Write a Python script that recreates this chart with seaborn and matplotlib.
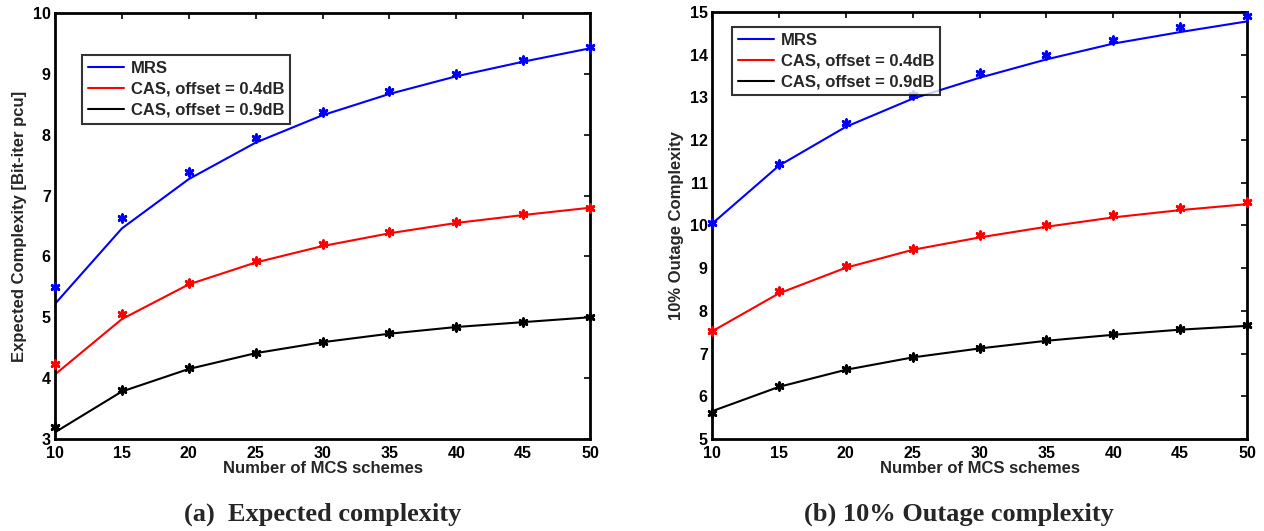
import numpy as np
import pandas as pd
import matplotlib
matplotlib.use("Agg")
import matplotlib.pyplot as plt
import seaborn as sns

sns.set_theme(style="white")
plt.rcParams['font.family'] = ['Liberation Sans', 'DejaVu Sans']
plt.rcParams['font.weight'] = 'bold'

x_mcs = [10, 15, 20, 25, 30, 35, 40, 45, 50]
series_names = ["MRS", "CAS, offset = 0.4dB", "CAS, offset = 0.9dB"]

# (a) Expected complexity: simulated points and fitted curves
exp_mrs_pts = [5.50, 6.63, 7.38, 7.95, 8.37, 8.72, 9.00, 9.22, 9.44]
exp_mrs_fit = [5.22, 6.46, 7.27, 7.87, 8.32, 8.67, 8.96, 9.20, 9.42]
exp_cas04_pts = [4.24, 5.05, 5.56, 5.93, 6.20, 6.40, 6.56, 6.69, 6.80]
exp_cas04_fit = [4.06, 4.97, 5.54, 5.90, 6.17, 6.38, 6.55, 6.68, 6.80]
exp_cas09_pts = [3.19, 3.80, 4.16, 4.42, 4.60, 4.74, 4.84, 4.93, 5.00]
exp_cas09_fit = [3.11, 3.78, 4.15, 4.41, 4.59, 4.73, 4.84, 4.92, 5.00]

# (b) 10% outage complexity
out_mrs_pts = [10.07, 11.45, 12.40, 13.05, 13.57, 14.00, 14.35, 14.65, 14.91]
out_mrs_fit = [10.04, 11.40, 12.31, 12.97, 13.46, 13.89, 14.26, 14.53, 14.78]
out_cas04_pts = [7.53, 8.46, 9.04, 9.46, 9.78, 10.01, 10.24, 10.40, 10.55]
out_cas04_fit = [7.52, 8.41, 9.01, 9.43, 9.72, 9.97, 10.19, 10.36, 10.50]
out_cas09_pts = [5.62, 6.25, 6.64, 6.92, 7.13, 7.32, 7.46, 7.58, 7.67]
out_cas09_fit = [5.65, 6.22, 6.62, 6.91, 7.12, 7.30, 7.44, 7.56, 7.65]

colors = {"MRS": "#0000ff", "CAS, offset = 0.4dB": "#ff0000", "CAS, offset = 0.9dB": "#000000"}


def make_df(pts, fits):
    rows = []
    for name, p, f in zip(series_names, pts, fits):
        for xv, pv, fv in zip(x_mcs, p, f):
            rows.append({"x": xv, "pts": pv, "fit": fv, "series": name})
    return pd.DataFrame(rows)


df_a = make_df([exp_mrs_pts, exp_cas04_pts, exp_cas09_pts],
               [exp_mrs_fit, exp_cas04_fit, exp_cas09_fit])
df_b = make_df([out_mrs_pts, out_cas04_pts, out_cas09_pts],
               [out_mrs_fit, out_cas04_fit, out_cas09_fit])

fig = plt.figure(figsize=(12.64, 5.31), dpi=100)
ax1 = fig.add_axes([0.0435, 0.1733, 0.4233, 0.8022])
ax2 = fig.add_axes([0.5633, 0.1733, 0.4233, 0.8041])

fs = 12


def draw(ax, df, ylim, yticks, ylabel, legend_anchor):
    sns.lineplot(data=df, x="x", y="fit", hue="series", palette=colors,
                 hue_order=series_names, ax=ax, linewidth=1.5, legend=True)
    for name in series_names:
        sub = df[df.series == name]
        sns.scatterplot(x=sub["x"], y=sub["pts"], ax=ax, color=colors[name],
                        marker=(6, 2, 0), s=30, linewidth=2.0, legend=False,
                        edgecolor=colors[name], zorder=3, clip_on=False)
    ax.set_xlim(10, 50)
    ax.set_ylim(*ylim)
    ax.set_xticks(x_mcs)
    ax.set_yticks(yticks)
    ax.tick_params(direction='in', top=True, right=True, length=4, width=1.2,
                   labelsize=11.5, colors='black')
    ax.tick_params(axis='x', pad=5)
    ax.tick_params(axis='y', pad=3)
    for lab in ax.get_xticklabels() + ax.get_yticklabels():
        lab.set_fontweight('bold')
    for sp in ax.spines.values():
        sp.set_visible(True)
        sp.set_color('black')
        sp.set_linewidth(2)
    ax.set_xlabel("Number of MCS schemes", fontsize=fs, fontweight='bold', labelpad=0)
    ax.set_ylabel(ylabel, fontsize=fs, fontweight='bold', labelpad=4)
    leg = ax.legend(loc='upper left', bbox_to_anchor=legend_anchor,
                    frameon=True, fancybox=False, edgecolor='black',
                    handlelength=2.2, handletextpad=0.4, borderpad=0.35,
                    borderaxespad=0, labelspacing=0.35,
                    prop={'weight': 'bold', 'size': fs})
    leg.get_frame().set_linewidth(1.5)
    leg.get_frame().set_facecolor('white')
    leg.set_zorder(5)
    ax.grid(False)


draw(ax1, df_a, (3, 10), range(3, 11), "Expected Complexity [Bit-iter pcu]",
     (0.05, 0.901))
draw(ax2, df_b, (5, 15), range(5, 16), "10% Outage Complexity",
     (0.037, 0.965))

fig.text(0.2555, 0.032, "(a)  Expected complexity", ha='center', va='center',
         fontsize=19, fontweight='bold', family='Liberation Serif')
fig.text(0.759, 0.032, "(b) 10% Outage complexity", ha='center', va='center',
         fontsize=19, fontweight='bold', family='Liberation Serif')

fig.savefig("out.png", dpi=100)
